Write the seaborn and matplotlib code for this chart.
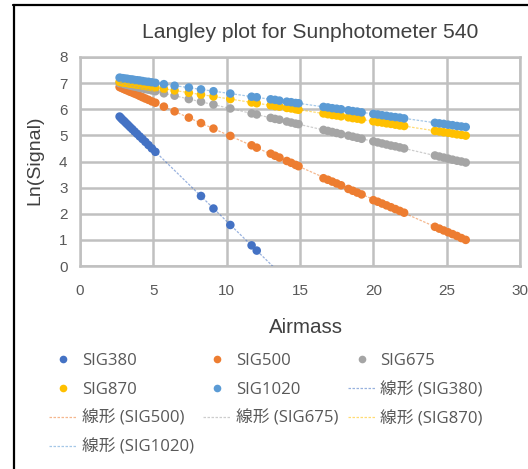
import numpy as np
import pandas as pd
import matplotlib
matplotlib.use("Agg")
import matplotlib.pyplot as plt
from matplotlib.lines import Line2D
import seaborn as sns

# ---------------- data ----------------
airmass = [2.70, 2.80, 2.90, 3.02, 3.14, 3.27, 3.41, 3.56, 3.72, 3.89, 4.07, 4.26, 4.46, 4.67, 4.90, 5.14,
           5.72, 6.45, 7.42, 8.25, 9.10, 10.25, 11.70, 12.05,
           13.0, 13.3, 13.6,
           14.1, 14.4, 14.7, 14.9,
           16.6, 16.9, 17.2, 17.5, 17.8,
           18.3, 18.6, 18.9, 19.2,
           20.0, 20.3, 20.6, 20.9, 21.2, 21.5, 21.8, 22.1,
           24.2, 24.5, 24.8, 25.1, 25.4, 25.7, 26.0, 26.3]

airmass_380 = [2.70, 2.80, 2.90, 3.02, 3.14, 3.27, 3.41, 3.56, 3.72, 3.89, 4.07, 4.26, 4.46, 4.67, 4.90, 5.14,
               8.25, 9.10, 10.25, 11.70, 12.05]
sig380 = [5.72, 5.66, 5.60, 5.54, 5.47, 5.40, 5.32, 5.24, 5.15, 5.06, 4.96, 4.86, 4.75, 4.63, 4.50, 4.37,
          2.68, 2.20, 1.57, 0.79, 0.59]

sig500 = [6.85, 6.83, 6.80, 6.77, 6.74, 6.71, 6.67, 6.64, 6.60, 6.56, 6.51, 6.46, 6.41, 6.36, 6.30, 6.25,
          6.10, 5.92, 5.68, 5.47, 5.26, 4.98, 4.62, 4.53,
          4.30, 4.22, 4.15,
          4.02, 3.95, 3.87, 3.82,
          3.36, 3.30, 3.23, 3.16, 3.09,
          2.95, 2.88, 2.81, 2.74,
          2.52, 2.46, 2.39, 2.32, 2.25, 2.18, 2.11, 2.04,
          1.50, 1.43, 1.36, 1.29, 1.22, 1.15, 1.07, 1.00]

sig675 = [7.00, 6.99, 6.98, 6.96, 6.94, 6.93, 6.91, 6.89, 6.87, 6.85, 6.82, 6.80, 6.77, 6.75, 6.72, 6.69,
          6.61, 6.52, 6.39, 6.29, 6.18, 6.03, 5.84, 5.80,
          5.67, 5.63, 5.60,
          5.53, 5.49, 5.45, 5.43,
          5.21, 5.17, 5.13, 5.09, 5.05,
          4.99, 4.95, 4.91, 4.87,
          4.77, 4.73, 4.69, 4.65, 4.61, 4.58, 4.54, 4.50,
          4.23, 4.19, 4.15, 4.11, 4.07, 4.03, 4.00, 3.96]

sig870 = [7.05, 7.04, 7.03, 7.02, 7.01, 7.00, 6.98, 6.97, 6.96, 6.94, 6.93, 6.91, 6.89, 6.87, 6.85, 6.83,
          6.78, 6.72, 6.63, 6.56, 6.49, 6.39, 6.26, 6.23,
          6.15, 6.12, 6.10,
          6.05, 6.03, 6.00, 5.98,
          5.84, 5.81, 5.78, 5.76, 5.73,
          5.69, 5.66, 5.64, 5.61,
          5.54, 5.51, 5.49, 5.46, 5.44, 5.41, 5.38, 5.36,
          5.17, 5.15, 5.12, 5.10, 5.07, 5.04, 5.02, 4.99]

sig1020 = [7.21, 7.19, 7.19, 7.17, 7.17, 7.16, 7.14, 7.14, 7.12, 7.11, 7.10, 7.08, 7.06, 7.05, 7.03, 7.01,
           6.96, 6.90, 6.83, 6.76, 6.69, 6.60, 6.48, 6.46,
           6.38, 6.36, 6.33,
           6.29, 6.27, 6.24, 6.23,
           6.09, 6.07, 6.04, 6.02, 6.00,
           5.96, 5.93, 5.91, 5.88,
           5.82, 5.80, 5.77, 5.75, 5.72, 5.70, 5.68, 5.65,
           5.48, 5.46, 5.44, 5.41, 5.39, 5.36, 5.34, 5.32]

series_names = ["SIG380", "SIG500", "SIG675", "SIG870", "SIG1020"]
colors = ["#4472C4", "#ED7D31", "#A5A5A5", "#FFC000", "#5B9BD5"]
trend_prefix = "線形"

title = "Langley plot for Sunphotometer 540"
xlabel = "Airmass"
ylabel = "Ln(Signal)"
xticks = [0, 5, 10, 15, 20, 25, 30]
yticks = [0, 1, 2, 3, 4, 5, 6, 7, 8]

# ---------------- build table ----------------
xs = [airmass_380, airmass, airmass, airmass, airmass]
ys = [sig380, sig500, sig675, sig870, sig1020]
frames = []
for name, x, y in zip(series_names, xs, ys):
    frames.append(pd.DataFrame({"Airmass": x, "Signal": y, "Series": name}))
df = pd.concat(frames, ignore_index=True)

# ---------------- figure ----------------
sns.set_theme(style="white")
plt.rcParams["font.family"] = ["Liberation Sans", "Noto Sans CJK JP"]

W, H = 528, 469
fig = plt.figure(figsize=(W / 100, H / 100), dpi=100)
ax = fig.add_axes([80 / W, 1 - 266 / H, 440 / W, 209 / H])

grid_c = "#C0C0C0"
ax.set_axisbelow(True)
ax.grid(True, color=grid_c, lw=1.8)

palette = dict(zip(series_names, colors))
sns.scatterplot(data=df, x="Airmass", y="Signal", hue="Series", palette=palette,
                hue_order=series_names, s=38, linewidth=0,
                legend=False, ax=ax, zorder=3)

# linear trendlines (Excel 線形)
xmin, xmax = min(airmass), max(airmass)
xline = np.array([xmin, xmax])
trend_handles = []
for name, x, y, c in zip(series_names, xs, ys, colors):
    k, b = np.polyfit(x, y, 1)
    ax.plot(xline, k * xline + b, color=c, alpha=0.55, lw=0.9,
            ls=(0, (2.0, 1.2)), zorder=4)
    trend_handles.append(Line2D([0], [0], color=c, alpha=0.55, lw=0.9, ls=(0, (2.0, 1.2))))

ax.set_xlim(0, 30)
ax.set_ylim(0, 8)
ax.set_xticks(xticks)
ax.set_yticks(yticks)
for s in ax.spines.values():
    s.set_color(grid_c)
    s.set_linewidth(1.8)
ax.tick_params(axis="both", length=0, labelsize=11, labelcolor="#595959")
ax.tick_params(axis="x", pad=13)
ax.tick_params(axis="y", pad=9)
ax.set_xlabel("")
ax.set_ylabel("")

fig.text(306 / W, 1 - 327 / H, xlabel, ha="center", va="center", fontsize=14.8, color="#404040")
fig.text(35 / W, 1 - 160 / H, ylabel, ha="center", va="center", rotation=90, fontsize=14, color="#404040")
fig.text(310 / W, 1 - 33 / H, title, ha="center", va="center", fontsize=15.2, color="#404040")

# legend (row-major like Excel)
marker_handles = [Line2D([0], [0], marker="o", ls="none", markersize=5.5, markerfacecolor=c,
                         markeredgewidth=0, color=c) for c in colors]
labels = series_names + [f"{trend_prefix} ({n})" for n in series_names]
handles = marker_handles + trend_handles
order = [0, 3, 6, 9, 1, 4, 7, 2, 5, 8]
leg = fig.legend([handles[i] for i in order], [labels[i] for i in order],
                 loc="upper left", bbox_to_anchor=(49 / W, 1 - 353 / H), ncol=3,
                 frameon=False, borderpad=0, borderaxespad=0,
                 handlelength=1.65, handletextpad=0.3, columnspacing=0.55, labelspacing=0.76,
                 prop={"family": ["Open Sans", "Noto Sans CJK JP"], "size": 12.1})
for t in leg.get_texts():
    t.set_color("#595959")

# chart-area border (left and top edges visible)
fig.add_artist(Line2D([13.5 / W, 13.5 / W], [0, 1 - 5 / H], color="black", lw=1.6))
fig.add_artist(Line2D([13 / W, 1], [1 - 5.5 / H, 1 - 5.5 / H], color="black", lw=1.6))

fig.savefig("out.png", dpi=100)
